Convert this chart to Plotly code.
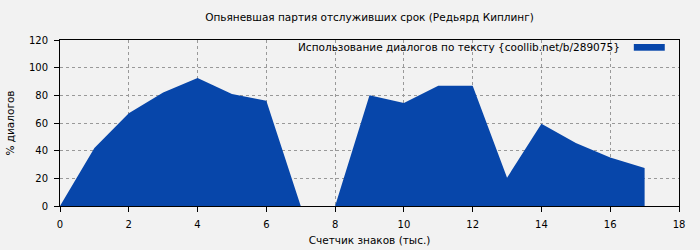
import plotly.graph_objects as go

x_vals = [0, 1, 2, 3, 4, 5, 6, 7, 8, 9, 10, 11, 12, 13, 14, 15, 16, 17]
y_vals = [0, 42, 67, 82, 92.5, 81, 76, 0, 0, 80, 74.5, 87, 87, 20.5, 59.5, 45.5, 35, 27.5]
title = "Опьяневшая партия отслуживших срок (Редьярд Киплинг)"
series_name = "Использование диалогов по тексту {coollib.net/b/289075}"
x_title = "Счетчик знаков (тыс.)"
y_title = "% диалогов"

fill_color = "#0746AA"
bg = "#F2F2F2"
font = "DejaVu Sans"

fig = go.Figure()
fig.add_trace(go.Scatter(
    x=x_vals, y=y_vals, mode="lines", fill="tozeroy",
    fillcolor=fill_color, line=dict(width=0, color=fill_color),
    name=series_name, showlegend=False, hoverinfo="skip",
))

axis_common = dict(
    showline=True, linecolor="black", linewidth=1, mirror=True,
    showgrid=True, gridcolor="#999999", griddash="3px,3px", gridwidth=1,
    ticks="outside", ticklen=5, tickcolor="black",
    zeroline=False, tickfont=dict(family=font, size=10, color="black"),
    automargin=False, ticklabelstandoff=4,
)

fig.update_layout(
    width=700, height=250,
    margin=dict(l=60, r=21, t=40, b=44),
    paper_bgcolor=bg, plot_bgcolor=bg,
    font=dict(family=font, size=10, color="black"),
    title=dict(text=title, xref="paper", x=0.5, xanchor="center", y=0.93, yanchor="middle",
               font=dict(family=font, size=10.5, color="black")),
    xaxis=dict(range=[0, 18], dtick=2, title=dict(text=x_title, standoff=7,
               font=dict(family=font, size=10.5)), **axis_common),
    yaxis=dict(range=[0, 120], dtick=20, title=dict(text=y_title, standoff=12,
               font=dict(family=font, size=10.5)), **axis_common),
    showlegend=False,
)

fig.add_annotation(
    text=series_name, xref="paper", yref="paper", x=0.908, y=0.958,
    xanchor="right", yanchor="middle", showarrow=False,
    font=dict(family=font, size=10.5, color="black"),
)
fig.add_shape(
    type="rect", xref="paper", yref="paper",
    x0=0.927, x1=0.977, y0=0.9355, y1=0.976,
    fillcolor=fill_color, line=dict(width=0),
)

fig.write_html("out.html")
